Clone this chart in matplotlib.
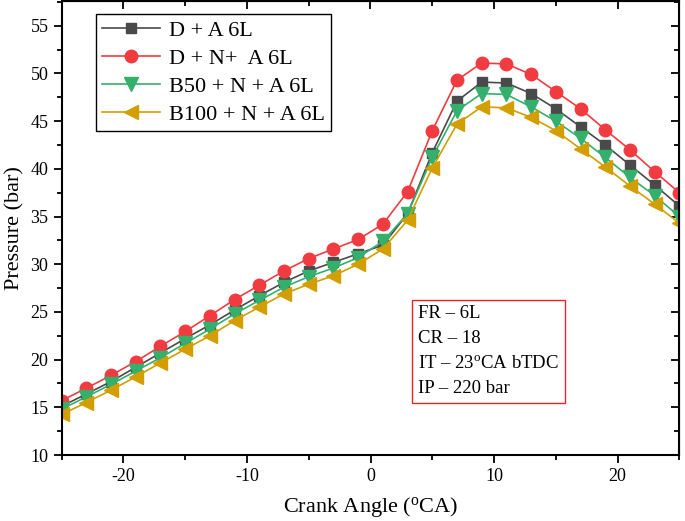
import matplotlib
matplotlib.use("Agg")
import matplotlib.pyplot as plt
from matplotlib.ticker import MultipleLocator

plt.rcParams['font.family'] = 'Liberation Serif'
plt.rcParams['mathtext.fontset'] = 'custom'
plt.rcParams['mathtext.rm'] = 'Liberation Serif'
plt.rcParams['mathtext.it'] = 'Liberation Serif:italic'
plt.rcParams['axes.unicode_minus'] = False

# crank angle (deg)
crank = list(range(-25, 26, 2))

# pressure (bar)
p_d_a = [15.1, 16.4, 17.7, 19.2, 20.7, 22.2, 23.65, 25.2, 26.7, 28.1, 29.3, 30.2, 31.1,
         32.0, 35.3, 41.7, 47.1, 49.1, 49.0, 47.9, 46.3, 44.4, 42.5, 40.4, 38.3, 36.1]
p_d_n_a = [15.7, 17.0, 18.35, 19.8, 21.4, 22.95, 24.6, 26.3, 27.8, 29.3, 30.6, 31.6, 32.6,
           34.2, 37.6, 44.0, 49.3, 51.1, 51.0, 49.9, 48.1, 46.3, 44.1, 42.0, 39.7, 37.5]
p_b50 = [14.8, 16.1, 17.4, 18.8, 20.2, 21.7, 23.2, 24.8, 26.2, 27.6, 28.7, 29.6, 30.7,
         32.4, 35.3, 41.2, 46.1, 47.9, 47.8, 46.5, 45.0, 43.2, 41.2, 39.1, 37.2, 35.0]
p_b100 = [14.25, 15.5, 16.8, 18.2, 19.65, 21.1, 22.5, 24.1, 25.5, 26.9, 27.9, 28.8, 30.0,
          31.6, 34.6, 40.1, 44.7, 46.5, 46.4, 45.4, 44.0, 42.1, 40.2, 38.2, 36.3, 34.3]

labels = ["D + A 6L", "D + N+  A 6L", "B50 + N + A 6L", "B100 + N + A 6L"]
series = [p_d_a, p_d_n_a, p_b50, p_b100]
colors = ["#4a4a4a", "#f03c40", "#34b06c", "#d29e00"]
markers = ["s", "o", "v", "<"]
sizes = [7.5, 9, 9.5, 9.5]

fig = plt.figure(figsize=(6.85, 5.21), dpi=100)
ax = fig.add_axes([61.6 / 685, 1 - 455 / 521, (679.4 - 61.6) / 685, 454 / 521])

for y, lab, c, m, ms in zip(series, labels, colors, markers, sizes):
    ax.plot(crank, y, color=c, marker=m, markersize=ms, linewidth=1.2,
            markeredgecolor=c, label=lab)

ax.set_xlim(-25, 25)
ax.set_ylim(10, 57.6)
ax.xaxis.set_major_locator(MultipleLocator(10))
ax.xaxis.set_minor_locator(MultipleLocator(5))
ax.yaxis.set_major_locator(MultipleLocator(5))
ax.yaxis.set_minor_locator(MultipleLocator(2.5))
ax.tick_params(which='both', direction='out', width=1.3)
ax.tick_params(which='major', length=6, labelsize=13)
ax.tick_params(which='minor', length=3.5)
for s in ax.spines.values():
    s.set_linewidth(1.5)

# inward ticks on top/right
sec_x = ax.secondary_xaxis('top')
sec_x.xaxis.set_major_locator(MultipleLocator(10))
sec_x.xaxis.set_minor_locator(MultipleLocator(5))
sec_x.tick_params(which='both', direction='in', labeltop=False, width=1.3)
sec_x.tick_params(which='major', length=6)
sec_x.tick_params(which='minor', length=3.5)
sec_y = ax.secondary_yaxis('right')
sec_y.yaxis.set_major_locator(MultipleLocator(5))
sec_y.yaxis.set_minor_locator(MultipleLocator(2.5))
sec_y.tick_params(which='both', direction='in', labelright=False, width=1.3)
sec_y.tick_params(which='major', length=6)
sec_y.tick_params(which='minor', length=3.5)

ax.set_xlabel(r"Crank Angle ($\mathregular{^o}$CA)", fontsize=16, labelpad=7)
ax.set_ylabel("Pressure (bar)", fontsize=16, labelpad=4)

leg = ax.legend(loc='upper left', bbox_to_anchor=(0.055, 0.972), fontsize=16,
                frameon=True, fancybox=False, edgecolor='black', framealpha=1,
                handlelength=2.6, borderpad=0.3, labelspacing=0.33, handletextpad=0.4,
                borderaxespad=0)
leg.get_frame().set_linewidth(1.0)

info = "FR – 6L\nCR – 18\nIT – 23$\\mathregular{^o}$CA bTDC\nIP – 220 bar"
ax.text(0.577, 0.128, info, transform=ax.transAxes, fontsize=13.5, va='bottom', ha='left',
        linespacing=1.6,
        bbox=dict(boxstyle='square,pad=0.3', facecolor='white', edgecolor='#e8262a', linewidth=1.0))

fig.savefig("out.png", dpi=100)
